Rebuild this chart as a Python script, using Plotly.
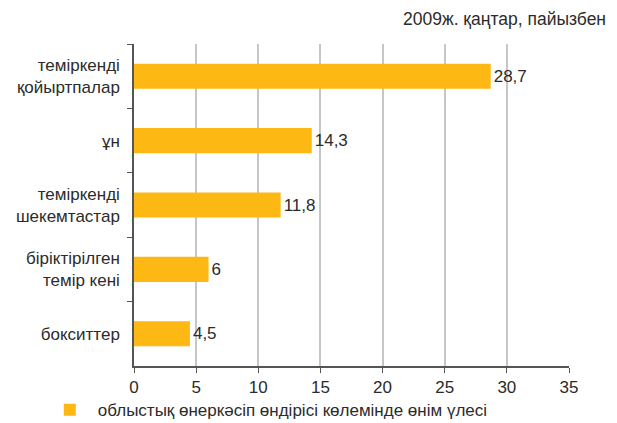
import plotly.graph_objects as go

categories = ["теміркенді<br>қойыртпалар", "ұн", "теміркенді<br>шекемтастар", "біріктірілген<br>темір кені", "бокситтер"]
values = [28.7, 14.3, 11.8, 6, 4.5]
value_labels = ["28,7", "14,3", "11,8", "6", "4,5"]
x_ticks = [0, 5, 10, 15, 20, 25, 30, 35]
series_name = "облыстық өнеркәсіп өндірісі көлемінде өнім үлесі"
title_text = "2009ж. қаңтар, пайызбен"

FONT = "Liberation Sans, Arial, sans-serif"
GOLD = "#FDB813"
TXT = "#2b2b2b"
FS = 17

fig = go.Figure()
fig.add_trace(go.Bar(
    y=categories, x=values, orientation="h",
    marker=dict(color=GOLD, line=dict(width=0)),
    text=value_labels, textposition="outside",
    textfont=dict(family=FONT, size=FS, color=TXT),
    cliponaxis=False,
    name=series_name, showlegend=True,
))

fig.update_layout(
    width=601, height=415,
    margin=dict(l=126, r=40, t=36, b=57, autoexpand=False),
    paper_bgcolor="white", plot_bgcolor="white",
    font=dict(family=FONT, size=FS, color=TXT),
    bargap=0.61,
    legend=dict(orientation="h", x=-0.212, xanchor="left", y=-0.137, yanchor="middle",
                bgcolor="rgba(0,0,0,0)",
                font=dict(family=FONT, size=FS, color=TXT), itemwidth=46),
    annotations=[dict(text=title_text, xref="paper", yref="paper", x=1.09, y=1.0,
                      xanchor="right", yanchor="middle", yshift=25, showarrow=False,
                      font=dict(family=FONT, size=17.5, color=TXT))],
)
fig.update_xaxes(range=[0, 35], tickvals=x_ticks, ticktext=[str(t) for t in x_ticks],
                 showgrid=True, gridcolor="#C6C6CA", gridwidth=2, automargin=False,
                 showline=True, linecolor="#555555", linewidth=1.5,
                 ticks="outside", ticklen=5, tickcolor="#555555", zeroline=False,
                 tickfont=dict(family=FONT, size=FS, color=TXT))
fig.update_yaxes(autorange="reversed", showline=True, linecolor="#555555", linewidth=1.5,
                 ticks="outside", ticklen=5, tickcolor="#555555", tickson="boundaries",
                 showgrid=False, ticklabelstandoff=9, automargin=False,
                 tickfont=dict(family=FONT, size=FS, color=TXT))

fig.write_html("out.html")
